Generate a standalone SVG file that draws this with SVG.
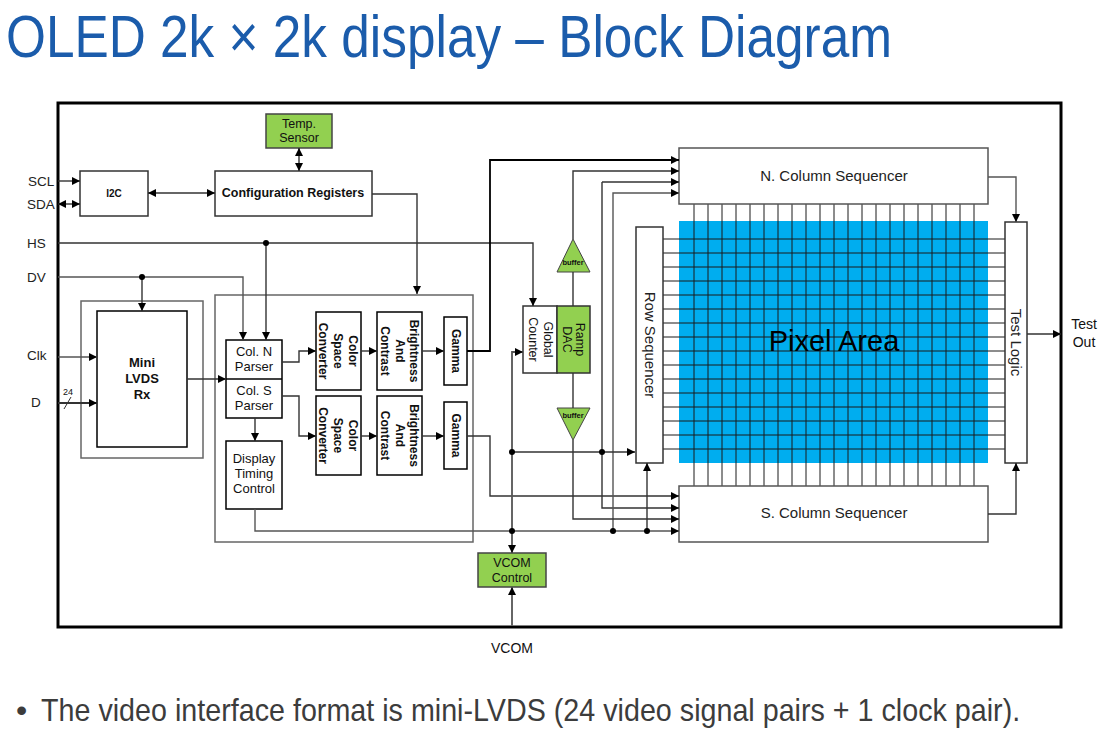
<svg xmlns="http://www.w3.org/2000/svg" width="1109" height="753" viewBox="0 0 1109 753">
<defs>
<marker id="ar" viewBox="0 0 10 10" refX="10" refY="5" markerWidth="9" markerHeight="8" markerUnits="userSpaceOnUse" orient="auto-start-reverse"><path d="M0,0 L10,5 L0,10 z" fill="#000"/></marker>
</defs>
<style>
text{font-family:"Liberation Sans",Arial,sans-serif;fill:#111}
.box{fill:#fff;stroke:#333;stroke-width:1.5}
.grn{fill:#92d050;stroke:#444;stroke-width:1.5}
.frm{fill:none;stroke:#666;stroke-width:1.5}
.ln{fill:none;stroke:#333;stroke-width:1.4}
.ae{marker-end:url(#ar)}
.ab{marker-start:url(#ar);marker-end:url(#ar)}
.lbl{font-size:13.5px;fill:#222}
.b12{font-size:12px;font-weight:bold;text-anchor:middle}
.r12{font-size:12.5px;text-anchor:middle}
.r13{font-size:13px;text-anchor:middle}
.r15{font-size:15px;text-anchor:middle;fill:#222}
.dot{fill:#000}
.grid{stroke:#1a1a1a;stroke-width:1}
</style>
<rect width="1109" height="753" fill="#fff"/>
<text x="6" y="57" font-size="60" textLength="886" lengthAdjust="spacingAndGlyphs" style="fill:#1b5cab">OLED 2k × 2k display – Block Diagram</text>
<rect x="58" y="103" width="1003" height="524" fill="none" stroke="#000" stroke-width="3"/>
<g id="labels">
<text class="lbl" x="28" y="186">SCL</text>
<text class="lbl" x="27" y="209">SDA</text>
<text class="lbl" x="27" y="248">HS</text>
<text class="lbl" x="27" y="282">DV</text>
<text class="lbl" x="27" y="360">Clk</text>
<text class="lbl" x="31" y="407">D</text>
<text x="63" y="395" font-size="9">24</text>
<text class="r13" x="1084" y="329" style="font-size:14px">Test</text>
<text class="r13" x="1084" y="347" style="font-size:14px">Out</text>
<text class="r13" x="512" y="653" style="font-size:14px">VCOM</text>
</g>
<g id="i2c"><rect class="box" x="80" y="171" width="68" height="45"/><text class="b12" x="114" y="197" style="font-size:10px">I2C</text></g>
<g id="config"><rect class="box" x="215" y="171" width="157" height="45"/><text class="b12" x="293" y="197" style="font-size:12.5px">Configuration Registers</text></g>
<g id="temp"><rect class="grn" x="266" y="114" width="66" height="34"/><text class="r12" x="299" y="128">Temp.</text><text class="r12" x="299" y="142">Sensor</text></g>
<g id="lvdsframe"><rect class="frm" x="81" y="301" width="122" height="157"/></g>
<g id="lvds"><rect class="box" x="97" y="311" width="90" height="136" style="stroke:#000"/><text class="b12" x="142" y="367" style="font-size:13px">Mini</text><text class="b12" x="142" y="383" style="font-size:13px">LVDS</text><text class="b12" x="142" y="399" style="font-size:13px">Rx</text></g>
<g id="procframe"><rect class="frm" x="215" y="295" width="258" height="247"/></g>
<g id="parser"><rect class="box" x="226" y="340" width="56" height="78" style="stroke:#000"/><line x1="226" y1="379" x2="282" y2="379" stroke="#000" stroke-width="1.5"/><text class="r13" x="254" y="356">Col. N</text><text class="r13" x="254" y="371">Parser</text><text class="r13" x="254" y="395">Col. S</text><text class="r13" x="254" y="410">Parser</text></g>
<g id="dtc"><rect class="box" x="226" y="441" width="56" height="68" style="stroke:#000"/><text class="r13" x="254" y="463">Display</text><text class="r13" x="254" y="478">Timing</text><text class="r13" x="254" y="493">Control</text></g>
<g id="csc1"><rect class="box" x="316" y="312" width="45" height="78" style="stroke:#000"/><text class="b12" transform="translate(338.5,351) rotate(90)"><tspan x="0" y="-10.5">Color</tspan><tspan x="0" y="4.5">Space</tspan><tspan x="0" y="19.5">Converter</tspan></text></g>
<g id="csc2"><rect class="box" x="316" y="396" width="45" height="79" style="stroke:#000"/><text class="b12" transform="translate(338.5,435.5) rotate(90)"><tspan x="0" y="-10.5">Color</tspan><tspan x="0" y="4.5">Space</tspan><tspan x="0" y="19.5">Converter</tspan></text></g>
<g id="bc1"><rect class="box" x="377" y="312" width="45" height="78" style="stroke:#000"/><text class="b12" transform="translate(399.5,351) rotate(90)"><tspan x="0" y="-10.5">Brightness</tspan><tspan x="0" y="4">And</tspan><tspan x="0" y="18.5">Contrast</tspan></text></g>
<g id="bc2"><rect class="box" x="377" y="396" width="45" height="79" style="stroke:#000"/><text class="b12" transform="translate(399.5,435.5) rotate(90)"><tspan x="0" y="-10.5">Brightness</tspan><tspan x="0" y="4">And</tspan><tspan x="0" y="18.5">Contrast</tspan></text></g>
<g id="gamma1"><rect class="box" x="444" y="317" width="23" height="68" style="stroke:#000"/><text class="b12" transform="translate(455.5,351) rotate(90)" y="4">Gamma</text></g>
<g id="gamma2"><rect class="box" x="444" y="402" width="23" height="67" style="stroke:#000"/><text class="b12" transform="translate(455.5,435.5) rotate(90)" y="4">Gamma</text></g>
<g id="counter"><rect class="box" x="523" y="306" width="34" height="67"/><text class="r12" transform="translate(540,339.5) rotate(90)"><tspan x="0" y="-4">Global</tspan><tspan x="0" y="11">Counter</tspan></text></g>
<g id="ramp"><rect class="grn" x="557" y="306" width="33" height="67" style="stroke:#333"/><text class="r12" transform="translate(573.5,339.5) rotate(90)"><tspan x="0" y="-2.5">Ramp</tspan><tspan x="0" y="10.5">DAC</tspan></text></g>
<g id="bufup"><polygon class="grn" points="573,239 557,272 590,272" style="stroke-width:1"/><text x="573" y="265" font-size="7.5" font-weight="bold" text-anchor="middle">buffer</text></g>
<g id="bufdn"><polygon class="grn" points="557,408 590,408 573,440" style="stroke-width:1"/><text x="573" y="418" font-size="7.5" font-weight="bold" text-anchor="middle">buffer</text></g>
<g id="vcom"><rect class="grn" x="478" y="553" width="68" height="34"/><text class="r12" x="512" y="567">VCOM</text><text class="r12" x="512" y="582">Control</text></g>
<g id="pixel">
<rect x="679" y="221" width="309" height="242" fill="#00adef"/>
<g class="grid">
<path d="M694,204V486M708,204V486M722,204V486M736,204V486M750,204V486M764,204V486M778,204V486M792,204V486M806,204V486M820,204V486M834,204V486M848,204V486M862,204V486M876,204V486M890,204V486M904,204V486M918,204V486M932,204V486M946,204V486M960,204V486M974,204V486" stroke="#1a1a1a"/>
<path d="M663,239H1005M663,253H1005M663,267H1005M663,281H1005M663,295H1005M663,309H1005M663,323H1005M663,337H1005M663,351H1005M663,365H1005M663,379H1005M663,393H1005M663,407H1005M663,421H1005M663,435H1005M663,449H1005" stroke="#1a1a1a"/>
</g>
<text x="834" y="351" font-size="29" text-anchor="middle" style="fill:#000">Pixel Area</text>
</g>
<g id="ncol"><rect class="box" x="679" y="148" width="309" height="56" style="stroke:#555"/><text class="r15" x="834" y="181">N. Column Sequencer</text></g>
<g id="scol"><rect class="box" x="679" y="486" width="309" height="56" style="stroke:#555"/><text class="r15" x="834" y="518">S. Column Sequencer</text></g>
<g id="rowseq"><rect class="box" x="636" y="227" width="27" height="236"/><text class="r15" transform="translate(649.5,345) rotate(90)" y="5">Row Sequencer</text></g>
<g id="testlogic"><rect class="box" x="1005" y="222" width="22" height="241"/><text class="r15" transform="translate(1016,342.5) rotate(90)" y="5">Test Logic</text></g>
<g id="connectors">
<path class="ln ae" d="M58,181H80"/>
<path class="ln ab" d="M58,204H80"/>
<path class="ln ab" d="M148,193H215"/>
<path class="ln ab" d="M299,148V171"/>
<path class="ln ae" d="M372,194H417V294"/>
<path class="ln ae" d="M58,243H533V306"/>
<path class="ln ae" d="M266,243V340"/>
<path class="ln ae" d="M58,277H243V340" style="stroke:#555"/>
<path class="ln ae" d="M142,277V311"/>
<path class="ln ae" d="M58,357H97" style="stroke:#555"/>
<path class="ln ae" d="M58,403H97" style="stroke-width:2"/>
<path d="M64,409L71,397" stroke="#333" stroke-width="1"/>
<path class="ln ae" d="M187,379H226"/>
<path class="ln ae" d="M282,362H299V351H316"/>
<path class="ln ae" d="M282,396H299V436H316"/>
<path class="ln ae" d="M361,351H377"/>
<path class="ln ae" d="M422,351H444"/>
<path class="ln ae" d="M361,436H377"/>
<path class="ln ae" d="M422,436H444"/>
<path class="ln ae" d="M255,418V441"/>
<path class="ln ae" d="M467,351H490V160H679" style="stroke:#000;stroke-width:1.8"/>
<path class="ln ae" d="M467,436H490V496H679"/>
<path class="ln ae" d="M573,239V171H679"/>
<path class="ln ae" d="M602,182H679"/>
<path class="ln ae" d="M602,182V508H679"/>
<path class="ln ae" d="M613,531V193H679" style="stroke:#555"/>
<path class="ln" d="M573,272V306"/>
<path class="ln" d="M573,373V408"/>
<path class="ln ae" d="M573,440V519H679"/>
<path class="ln ae" d="M255,509V531H679" style="stroke:#555"/>
<path class="ln ab" d="M523,352H512V553" style="stroke:#555;stroke-width:1.8"/>
<path class="ln ae" d="M512,452H635"/>
<path class="ln ae" d="M647,531V463"/>
<path class="ln ae" d="M988,177H1016V222" style="stroke:#555"/>
<path class="ln ae" d="M988,514H1016V463"/>
<path class="ln ae" d="M1027,334H1061"/>
<path class="ln ae" d="M512,626V587" style="stroke:#666;stroke-width:2"/>
<circle class="dot" cx="266" cy="243" r="3"/>
<circle class="dot" cx="142" cy="277" r="3"/>
<circle class="dot" cx="512" cy="452" r="3"/>
<circle class="dot" cx="602" cy="452" r="3"/>
<circle class="dot" cx="512" cy="531" r="3"/>
<circle class="dot" cx="613" cy="531" r="3"/>
<circle class="dot" cx="647" cy="531" r="3"/>
</g>
<text x="16" y="721" font-size="32" style="fill:#3c3c3c">•</text>
<text transform="translate(41,721) scale(0.85,1)" x="0" y="0" font-size="32" textLength="1152" lengthAdjust="spacingAndGlyphs" style="fill:#3c3c3c">The video interface format is mini-LVDS (24 video signal pairs + 1 clock pair).</text>
</svg>
